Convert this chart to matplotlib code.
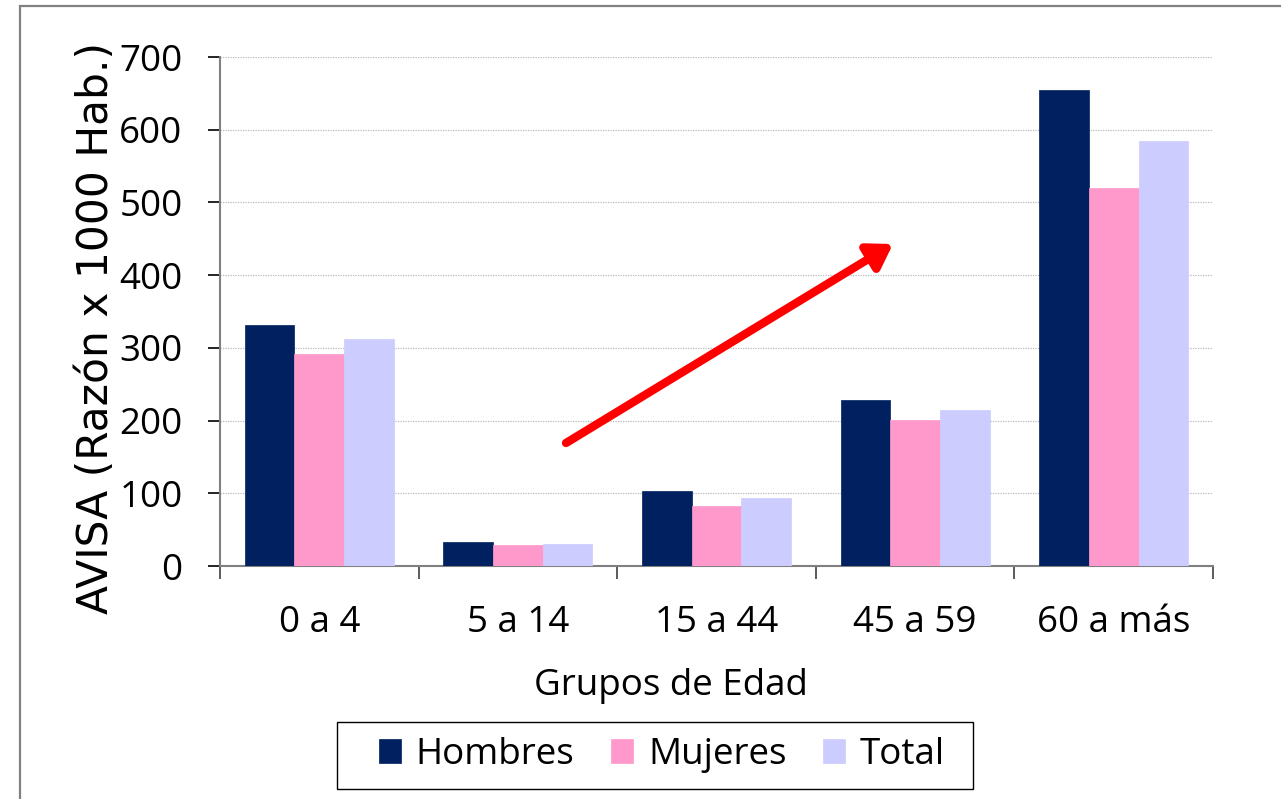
import matplotlib
matplotlib.use("Agg")
import matplotlib.pyplot as plt
from matplotlib.patches import Rectangle, FancyArrowPatch
import numpy as np

plt.rcParams['font.family'] = ['Open Sans', 'DejaVu Sans']

categories = ["0 a 4", "5 a 14", "15 a 44", "45 a 59", "60 a más"]
hombres = [331, 33, 103, 228, 655]
mujeres = [291, 29, 83, 201, 520]
total = [312, 30, 93, 214, 584]
series_names = ["Hombres", "Mujeres", "Total"]
colors = ["#002060", "#FF99CC", "#CCCCFF"]
yticks = [0, 100, 200, 300, 400, 500, 600, 700]

W, H = 1281, 799
fig = plt.figure(figsize=(W / 100, H / 100), dpi=100)
fig.patch.set_facecolor("white")

# outer frame
fig.add_artist(Rectangle((20 / W, -0.1), 1.2, 1 - 6 / H + 0.1, transform=fig.transFigure,
                         fill=False, edgecolor="#808080", linewidth=1.6))

ax = fig.add_axes([220 / W, 1 - 566 / H, (1213 - 220) / W, (566 - 57) / H])
x = np.arange(len(categories))
bw = 0.25
for i, (vals, name, c) in enumerate(zip([hombres, mujeres, total], series_names, colors)):
    ax.bar(x + (i - 1) * bw, vals, width=bw, color=c, label=name, zorder=3,
           edgecolor=c, linewidth=0.5)

FS = 26.5
ax.set_xlim(-0.5, len(categories) - 0.5)
ax.set_ylim(0, 700)
ax.set_yticks(yticks)
ax.set_yticklabels([str(v) for v in yticks], fontsize=FS)
ax.set_xticks(x)
ax.set_xticklabels(categories, fontsize=FS)
ax.set_xticks(np.arange(len(categories) + 1) - 0.5, minor=True)
ax.tick_params(axis="x", which="major", length=0, pad=28)
ax.tick_params(axis="x", which="minor", length=9, width=1.2, color="#404040", direction="out")
ax.tick_params(axis="y", which="major", length=9, width=1.2, color="#000000", pad=18)

ax.grid(axis="y", linestyle=(0, (1, 1)), color="#BBBBBB", linewidth=0.9, zorder=0)
for s in ["top", "right"]:
    ax.spines[s].set_visible(False)
ax.spines["left"].set_color("#808080")
ax.spines["bottom"].set_color("#808080")
ax.spines["left"].set_linewidth(1.5)
ax.spines["bottom"].set_linewidth(1.5)

ax.set_ylabel("AVISA (Razón x 1000 Hab.)", fontsize=30.5, family=["DejaVu Sans"])
ax.yaxis.set_label_coords((117 - 220) / 993, (566 - 328) / 509)
ax.set_xlabel("Grupos de Edad", fontsize=FS)
ax.xaxis.set_label_coords((671 - 220) / 993, -(668 - 566) / 509)

# legend (frame drawn separately)
leg = fig.legend(loc="center", bbox_to_anchor=(662 / W, 1 - 755 / H), ncol=3, fontsize=FS,
                 frameon=False, handlelength=0.6, handleheight=0.65, handletextpad=0.4,
                 columnspacing=1.0, borderpad=0.0)
fig.add_artist(Rectangle((337 / W, 1 - 789 / H), (973 - 337) / W, (789 - 722) / H,
                         transform=fig.transFigure, fill=False, edgecolor="#000000",
                         linewidth=1.0))

arrow = FancyArrowPatch((566 / W, 1 - 443 / H), (893 / W, 1 - 244 / H),
                        transform=fig.transFigure, arrowstyle="-|>,head_length=14,head_width=9",
                        mutation_scale=1, color="#FF0000", linewidth=6, shrinkA=0, shrinkB=0)
fig.add_artist(arrow)

fig.savefig("out.png", dpi=100)
